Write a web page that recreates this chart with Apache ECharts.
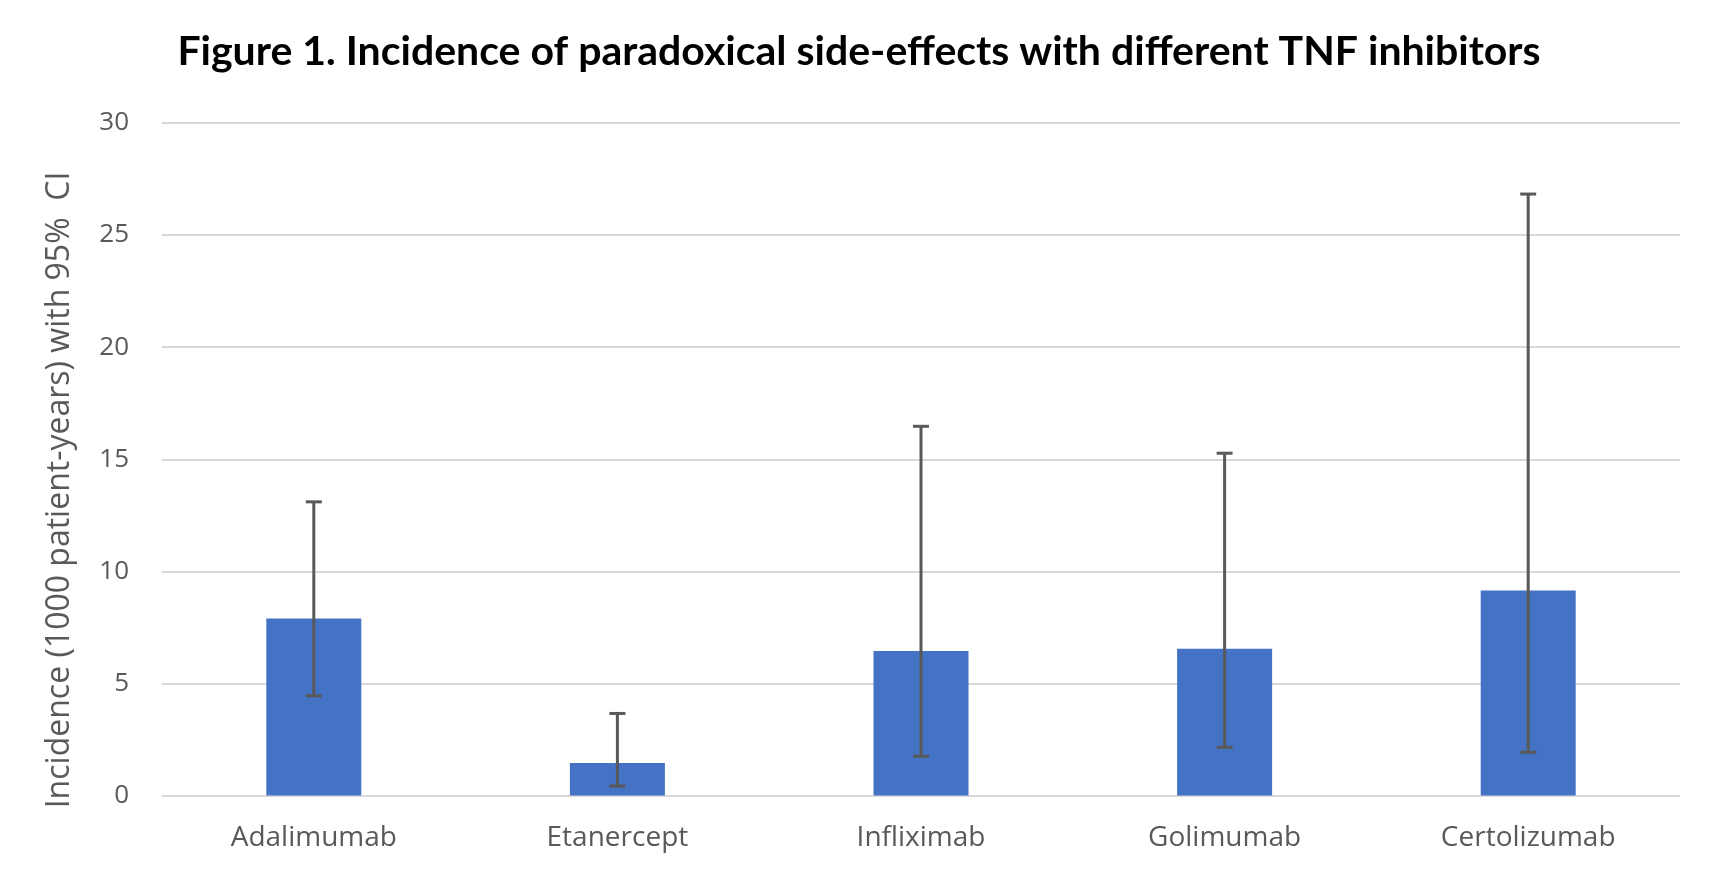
<!DOCTYPE html>
<html>
<head>
<meta charset="utf-8">
<script src="https://cdn.jsdelivr.net/npm/echarts@6/dist/echarts.min.js"></script>
<style>
html,body{margin:0;padding:0;background:#fff;}
#chart{width:1718px;height:878px;}
</style>
</head>
<body>
<div id="chart"></div>
<script>
const titleText = 'Figure 1. Incidence of paradoxical side-effects with different TNF inhibitors';
const yAxisTitle = 'Incidence (1000 patient-years) with 95%  CI';
const categories = ['Adalimumab', 'Etanercept', 'Infliximab', 'Golimumab', 'Certolizumab'];
const incidence = [7.9, 1.45, 6.45, 6.55, 9.15];
const ciLower = [4.45, 0.42, 1.75, 2.15, 1.93];
const ciUpper = [13.1, 3.66, 16.47, 15.27, 26.83];
const yTicks = [0, 5, 10, 15, 20, 25, 30];

const errorData = categories.map((c, i) => [i, ciLower[i], ciUpper[i]]);

const chart = echarts.init(document.getElementById('chart'));
chart.setOption({
  backgroundColor: '#ffffff',
  animation: false,
  title: {
    text: titleText,
    left: 'center',
    top: 26,
    textStyle: {fontFamily: 'Lato', fontWeight: 'bold', fontSize: 41, color: '#000000'}
  },
  graphic: [{
    type: 'text',
    x: 60,
    y: 490,
    rotation: Math.PI / 2,
    style: {
      text: yAxisTitle,
      fontFamily: 'Open Sans',
      fontSize: 32,
      fill: '#595959',
      align: 'center',
      verticalAlign: 'middle'
    }
  }],
  grid: {left: 162, right: 38, top: 123, bottom: 82.5, containLabel: false},
  xAxis: {
    type: 'category',
    data: categories,
    axisLine: {show: false},
    axisTick: {show: false},
    axisLabel: {fontFamily: 'Open Sans', fontSize: 28, color: '#595959', margin: 29}
  },
  yAxis: {
    type: 'value',
    min: yTicks[0],
    max: yTicks[yTicks.length - 1],
    interval: 5,
    axisLine: {show: false},
    axisTick: {show: false},
    axisLabel: {fontFamily: 'Open Sans', fontSize: 26, color: '#595959', margin: 33},
    splitLine: {lineStyle: {color: '#d9d9d9', width: 2}}
  },
  series: [
    {
      type: 'bar',
      data: incidence,
      barWidth: 95,
      itemStyle: {color: '#4472c4'}
    },
    {
      type: 'custom',
      data: errorData,
      z: 10,
      renderItem: function (params, api) {
        const x = api.value(0);
        const lo = api.coord([x, api.value(1)]);
        const hi = api.coord([x, api.value(2)]);
        const hw = 8;
        const style = {stroke: '#595959', lineWidth: 3, fill: null};
        return {
          type: 'group',
          children: [
            {type: 'line', shape: {x1: lo[0], y1: lo[1], x2: hi[0], y2: hi[1]}, style: style},
            {type: 'line', shape: {x1: hi[0] - hw, y1: hi[1], x2: hi[0] + hw, y2: hi[1]}, style: style},
            {type: 'line', shape: {x1: lo[0] - hw, y1: lo[1], x2: lo[0] + hw, y2: lo[1]}, style: style}
          ]
        };
      }
    }
  ]
});
</script>
</body>
</html>
